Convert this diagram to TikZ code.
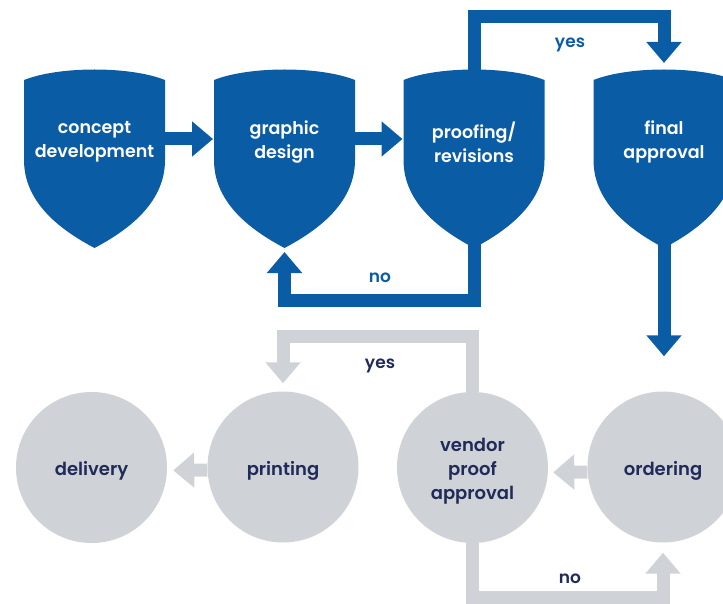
\documentclass[tikz,border=0pt]{standalone}
\usepackage{fontspec}
\setmainfont{Poppins SemiBold}
\usetikzlibrary{arrows.meta}

\definecolor{shieldblue}{RGB}{10,92,165}
\definecolor{stepgray}{RGB}{207,210,214}
\definecolor{navytext}{RGB}{33,43,90}

\tikzset{
  shieldtext/.style={text=white, align=center, font=\fontsize{17.5}{24}\selectfont},
  stepcircle/.style={circle, fill=stepgray, minimum size=151pt, inner sep=0pt,
    text=navytext, align=center, font=\fontsize{18}{24}\selectfont},
  bluearrow/.style={draw=shieldblue, line width=13pt, -{Triangle[width=34pt,length=21pt]}},
  grayarrow/.style={draw=stepgray, line width=13pt, -{Triangle[width=34pt,length=21pt]}},
  looplabel/.style={font=\fontsize{17}{20}\selectfont}
}
\newcommand{\lowstrut}[1]{\rule{0pt}{#1}}

\begin{document}
\begin{tikzpicture}[x=1pt, y=-1pt]
  \useasboundingbox (0,0) rectangle (723,604);

  % shields, top row
  \foreach \cx/\nm/\txt in {94.5/concept/{concept\\development},
      284.5/design/{graphic\\design},
      474/proofing/{proofing/\\revisions},
      664/final/{final\\approval}} {
    \fill[shieldblue] (\cx-70.5,80) .. controls (\cx-35,66) and (\cx+35,66) .. (\cx+70.5,80)
      -- (\cx+70.5,160) .. controls (\cx+70.5,205) and (\cx+30,232) .. (\cx,248)
      .. controls (\cx-30,232) and (\cx-70.5,205) .. (\cx-70.5,160) -- cycle;
    \node[shieldtext] (\nm) at (\cx,142) {\txt};
    \coordinate (\nm-top) at (\cx,70);
    \coordinate (\nm-bot) at (\cx,240);
    \coordinate (\nm-l) at (\cx-70.5,139);
    \coordinate (\nm-r) at (\cx+70.5,139);
  }

  % circles, bottom row
  \node[stepcircle] (ordering) at (663,467) {\lowstrut{21pt}ordering};
  \node[stepcircle] (vendor) at (472.5,467.5)
    {\begin{tabular}{@{}c@{}}\lowstrut{23pt}vendor\\proof\\approval\end{tabular}};
  \node[stepcircle] (printing) at (283,467) {\lowstrut{21pt}printing};
  \node[stepcircle] (delivery) at (91.5,467.5) {\lowstrut{21pt}delivery};

  % blue connectors
  \draw[bluearrow, shorten >=1pt] (concept-r) -- (design-l);
  \draw[bluearrow, shorten >=1pt] (design-r) -- (proofing-l);
  \draw[bluearrow, shorten >=7pt] (proofing-top) -- ++(0,-53.5) -| (final-top);
  \draw[bluearrow, shorten >=12pt] (proofing-bot) -- ++(0,60.5) -| (design-bot);
  \draw[bluearrow, shorten >=35pt] (final-bot) -- (final-bot |- ordering.north);

  % gray connectors
  \draw[grayarrow, shorten >=5pt] ([yshift=-5pt]ordering.west) -- ([yshift=-5pt]vendor.east);
  \draw[grayarrow, shorten >=6pt] ([yshift=-3pt]printing.west) -- ([yshift=-3pt]delivery.east);
  \draw[grayarrow, shorten >=8pt] (vendor.north) -- ++(0,-55) -| (printing.north);
  \draw[grayarrow, shorten >=10pt] (vendor.south) -- ++(0,54) -| (ordering.south);

  % labels
  \node[looplabel, text=shieldblue] (yestop) at (570,45) {yes};
  \node[looplabel, text=shieldblue] (notop) at (380,278) {no};
  \node[looplabel, text=navytext] (yesbottom) at (380,366) {yes};
  \node[looplabel, text=navytext] (nobottom) at (570,579) {no};
\end{tikzpicture}
\end{document}
